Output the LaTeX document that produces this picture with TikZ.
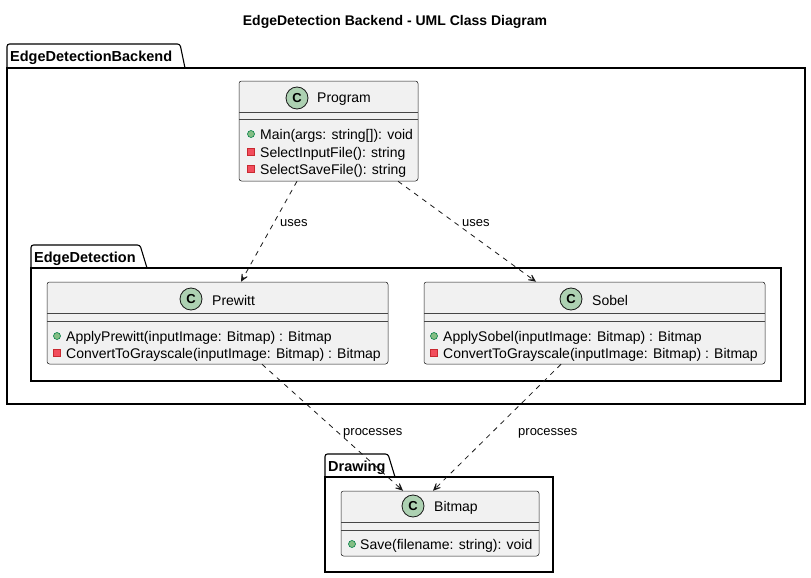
\documentclass[tikz,border=0pt]{standalone}
\usepackage{fontspec}
\setmainfont{Liberation Sans}
\usetikzlibrary{arrows.meta,calc}
\definecolor{clsfill}{HTML}{F1F1F1}
\definecolor{clsline}{HTML}{181818}
\definecolor{iconfill}{HTML}{ADD1B2}
\definecolor{pubfill}{HTML}{84BE84}
\definecolor{publine}{HTML}{038048}
\definecolor{privfill}{HTML}{F24D5C}
\definecolor{privline}{HTML}{C82930}
\begin{document}
\begin{tikzpicture}[x=1pt,y=-1pt,
	cls/.style={draw=clsline,line width=.5pt,fill=clsfill,rounded corners=2.5pt,inner sep=0pt},
	cicon/.style={circle,draw=clsline,fill=iconfill,line width=.8pt,minimum size=22pt,inner sep=0pt,font=\fontsize{13}{13}\selectfont\bfseries},
	cname/.style={anchor=west,inner sep=0pt,yshift=-2pt,font=\fontsize{14}{14}\selectfont},
	mem/.style={anchor=west,inner sep=0pt,yshift=-2pt,font=\fontsize{14}{14}\selectfont},
	pub/.style={circle,draw=publine,fill=pubfill,line width=.6pt,minimum size=7pt,inner sep=0pt},
	priv/.style={rectangle,draw=privline,fill=privfill,line width=.6pt,minimum size=7pt,inner sep=0pt},
	sep/.style={draw=clsline!80,line width=.5pt},
	pkg/.style={draw=black,line width=1.1pt,rounded corners=2.5pt},
	pkgname/.style={anchor=west,inner sep=0pt,yshift=-2pt,font=\fontsize{14.5}{14.5}\selectfont\bfseries},
	dep/.style={draw=clsline,line width=.8pt,dash pattern=on 5pt off 5pt,-{Stealth[length=11pt,width=10pt,inset=7pt]}},
	lbl/.style={anchor=west,inner sep=0pt,yshift=-2pt,font=\fontsize{13}{13}\selectfont}]
	\useasboundingbox (0,0) rectangle (811,578);
	
	%TITLE
	\node[inner sep=0pt,yshift=-2pt,font=\fontsize{14}{14}\selectfont\bfseries] (title) at (395,20) {EdgeDetection Backend - UML Class Diagram};
	
	%PACKAGES
	\draw[pkg] (7,68) |- (180,44) -- (185,68);
	\draw[pkg,rounded corners=0pt] (7,68) rectangle (805,404);
	\node[pkgname] (pkgBackend) at (10,56) {EdgeDetectionBackend};
	\draw[pkg] (31,268) |- (140,245) -- (147,268);
	\draw[pkg,rounded corners=0pt] (31,268) rectangle (781,381);
	\node[pkgname] (pkgEdge) at (34,257) {EdgeDetection};
	\draw[pkg] (325,477) |- (388,454) -- (395,477);
	\draw[pkg,rounded corners=0pt] (325,477) rectangle (553,572);
	\node[pkgname] (pkgDrawing) at (328,466) {Drawing};
	
	%PROGRAM
	\node[cls,minimum width=179pt,minimum height=100pt] (prog) at (328.5,131) {};
	\draw[sep] (239,112) -- (418,112) (239,119) -- (418,119);
	\node[cicon] (progC) at (297,98) {C};
	\node[cname] (progN) at (317,97) {Program};
	\node[pub] (progI1) at (251,134) {};
	\node[mem] (progM1) at (260,134) {Main(args: string[]): void};
	\node[priv] (progI2) at (251,152) {};
	\node[mem] (progM2) at (260,152) {SelectInputFile(): string};
	\node[priv] (progI3) at (251,169) {};
	\node[mem] (progM3) at (260,169) {SelectSaveFile(): string};
	
	%PREWITT
	\node[cls,minimum width=341pt,minimum height=82pt] (prew) at (217.5,323) {};
	\draw[sep] (47,313) -- (388,313) (47,321) -- (388,321);
	\node[cicon] (prewC) at (191,299) {C};
	\node[cname] (prewN) at (212,298) {Prewitt};
	\node[pub] (prewI1) at (57,336) {};
	\node[mem] (prewM1) at (66,336) {ApplyPrewitt(inputImage: Bitmap) : Bitmap};
	\node[priv] (prewI2) at (57,353) {};
	\node[mem] (prewM2) at (66,353) {ConvertToGrayscale(inputImage: Bitmap) : Bitmap};
	
	%SOBEL
	\node[cls,minimum width=341pt,minimum height=82pt] (sob) at (594.5,323) {};
	\draw[sep] (424,313) -- (765,313) (424,321) -- (765,321);
	\node[cicon] (sobC) at (571,299) {C};
	\node[cname] (sobN) at (592,298) {Sobel};
	\node[pub] (sobI1) at (434,336) {};
	\node[mem] (sobM1) at (443,336) {ApplySobel(inputImage: Bitmap) : Bitmap};
	\node[priv] (sobI2) at (434,353) {};
	\node[mem] (sobM2) at (443,353) {ConvertToGrayscale(inputImage: Bitmap) : Bitmap};
	
	%BITMAP
	\node[cls,minimum width=198pt,minimum height=65pt] (bmp) at (440,523.5) {};
	\draw[sep] (341,522) -- (539,522) (341,530) -- (539,530);
	\node[cicon] (bmpC) at (413,506) {C};
	\node[cname] (bmpN) at (434,506) {Bitmap};
	\node[pub] (bmpI1) at (352,544) {};
	\node[mem] (bmpM1) at (360,544) {Save(filename: string): void};
	
	%DEPENDENCIES
	\draw[dep] ($(prog.south)+(-31.5,0)$) -- ($(prew.north)+(23.5,0)$);
	\draw[dep] ($(prog.south)+(69.5,0)$) -- ($(sob.north)+(-58.5,0)$);
	\draw[dep] ($(prew.south)+(44.5,0)$) -- ($(bmp.north)+(-37,0)$);
	\draw[dep] ($(sob.south)+(-33.5,0)$) -- ($(bmp.north)+(-7,0)$);
	\node[lbl] (usesL) at (280,221) {uses};
	\node[lbl] (usesR) at (462,221) {uses};
	\node[lbl] (procL) at (343,431) {processes};
	\node[lbl] (procR) at (518,431) {processes};
\end{tikzpicture}
\end{document}
